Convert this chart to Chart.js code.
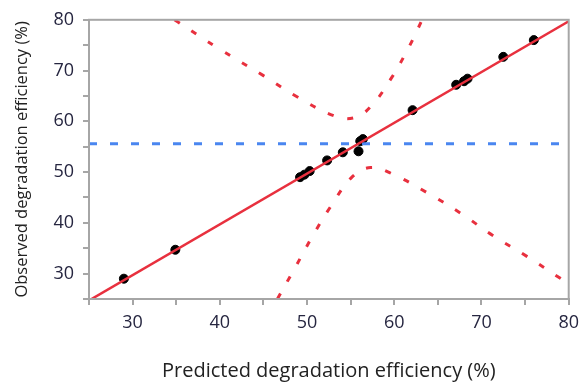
<!DOCTYPE html>
<html>
<head>
<meta charset="utf-8">
<script src="https://cdn.jsdelivr.net/npm/chart.js@4"></script>
<style>
  html, body { margin: 0; padding: 0; background: #fff; }
  #wrap { width: 586px; height: 383px; }
</style>
</head>
<body>
<div id="wrap"><canvas id="myChart" width="586" height="383"></canvas></div>
<script>
// observed vs predicted runs
const predicted = [29.0, 34.9, 49.2, 49.7, 50.3, 52.3, 54.1, 55.9, 56.1, 56.4, 62.1, 67.1, 68.0, 68.4, 72.5, 76.0]
const observed = [29.0, 34.7, 49.0, 49.5, 50.2, 52.3, 53.9, 54.1, 56.1, 56.5, 62.2, 67.2, 67.9, 68.4, 72.7, 76.0]

// fitted line and mean line
const fitX = [25, 80]
const fitY = [24.7, 79.7]
const meanY = 55.6

// confidence curves
const upperX = [34.8, 40.0, 45.0, 48.8, 53.1, 55.4, 57.3, 59.7, 61.7, 63.2]
const upperY = [80.0, 74.2, 69.0, 64.9, 61.1, 60.7, 62.9, 68.6, 74.7, 80.0]
const lowerX = [46.6, 48.7, 50.6, 52.7, 55.2, 57.3, 59.7, 63.7, 67.7, 71.3, 75.2, 79.1]
const lowerY = [25.0, 31.4, 37.3, 43.2, 49.1, 50.9, 49.7, 46.0, 41.8, 37.5, 33.4, 29.0]

const xTitle = 'Predicted degradation efficiency (%)'
const yTitle = 'Observed degradation efficiency (%)'

const toPts = (xs, ys) => xs.map((x, i) => ({ x, y: ys[i] }))

const red = '#e8303e'
const axisGrey = '#a6a6a6'
const labelColor = '#262640'
const fontFam = '"Open Sans", "DejaVu Sans", sans-serif'

// grey box round the plot area
const frame = {
  id: 'frame',
  afterDraw (chart) {
    const { ctx, chartArea: a } = chart
    ctx.save()
    ctx.strokeStyle = axisGrey
    ctx.lineWidth = 2
    ctx.strokeRect(a.left, a.top, a.right - a.left, a.bottom - a.top)
    ctx.restore()
  }
}

const ctx = document.getElementById('myChart').getContext('2d')
new Chart(ctx, {
  type: 'scatter',
  data: {
    datasets: [
      {
        data: toPts(fitX, fitY),
        showLine: true,
        borderColor: red,
        borderWidth: 2.5,
        pointRadius: 0
      },
      {
        data: toPts(upperX, upperY),
        showLine: true,
        tension: 0.4,
        borderColor: red,
        borderWidth: 3,
        borderDash: [6, 14],
        pointRadius: 0
      },
      {
        data: toPts(lowerX, lowerY),
        showLine: true,
        tension: 0.4,
        borderColor: red,
        borderWidth: 3,
        borderDash: [6, 14],
        pointRadius: 0
      },
      {
        data: [{ x: 25, y: meanY }, { x: 80, y: meanY }],
        showLine: true,
        borderColor: '#4a86f0',
        borderWidth: 3,
        borderDash: [8, 13],
        pointRadius: 0
      },
      {
        data: toPts(predicted, observed),
        backgroundColor: '#000',
        borderColor: '#000',
        pointRadius: 4.5
      }
    ]
  },
  options: {
    responsive: false,
    animation: false,
    layout: { padding: { top: 19, right: 15, left: 0, bottom: 0 } },
    plugins: {
      legend: { display: false },
      tooltip: { enabled: false }
    },
    scales: {
      x: {
        type: 'linear',
        min: 25,
        max: 80,
        afterFit: (s) => { s.height = 84 },
        border: { display: true, color: axisGrey, width: 2 },
        grid: { drawOnChartArea: false, color: axisGrey, tickLength: 6, lineWidth: 2 },
        ticks: {
          stepSize: 5,
          autoSkip: false,
          maxRotation: 0,
          padding: 7,
          color: labelColor,
          font: { family: fontFam, size: 18 },
          callback: (v) => (v % 10 === 0 ? v : '')
        },
        title: {
          display: true,
          text: xTitle,
          color: '#222',
          padding: { top: 20, bottom: 0 },
          font: { family: fontFam, size: 20 }
        }
      },
      y: {
        type: 'linear',
        min: 25,
        max: 80,
        afterFit: (s) => { s.width = 89 },
        border: { display: true, color: axisGrey, width: 2 },
        grid: { drawOnChartArea: false, color: axisGrey, tickLength: 6, lineWidth: 2 },
        ticks: {
          stepSize: 5,
          autoSkip: false,
          padding: 9,
          color: labelColor,
          font: { family: fontFam, size: 18 },
          callback: (v) => (v % 10 === 0 ? v : '')
        },
        title: {
          display: true,
          text: yTitle,
          color: '#222',
          padding: { top: 12, bottom: 12 },
          font: { family: fontFam, size: 16.5 }
        }
      }
    }
  },
  plugins: [frame]
})
</script>
</body>
</html>
